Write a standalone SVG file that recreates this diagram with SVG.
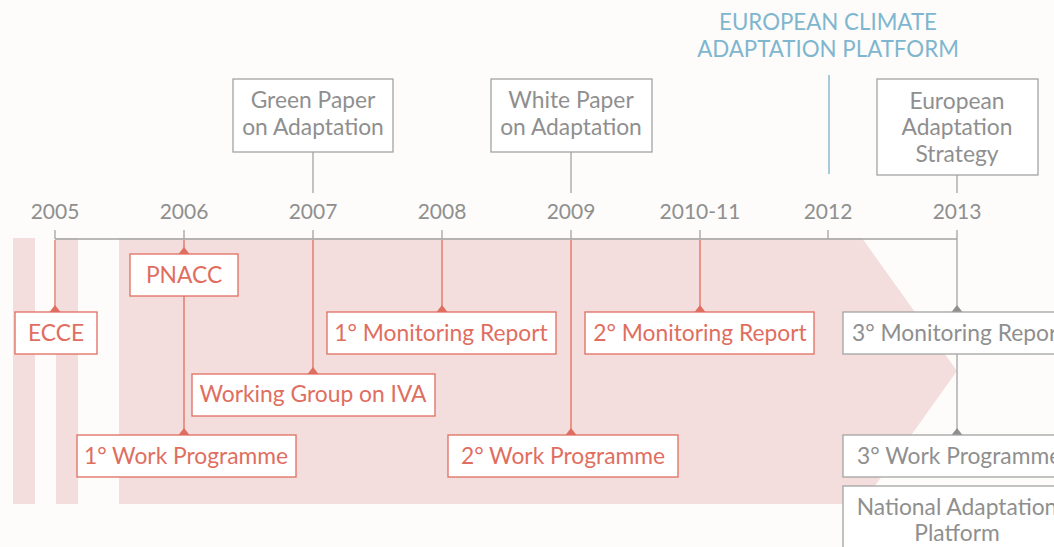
<svg xmlns="http://www.w3.org/2000/svg" width="1054" height="547" viewBox="0 0 1054 547">
<defs>
<style>
text{font-family:Lato,"Open Sans","Liberation Sans",sans-serif;font-size:22.8px}
.yr{fill:#8f8f8f;text-anchor:middle;font-size:21px}
.rbox{fill:#fff;stroke:#e06e60;stroke-width:1.3}
.gbox{fill:#fff;stroke:#a3a3a3;stroke-width:1.3}
.rt{fill:#e06e60;text-anchor:middle}
.gt{fill:#8f8f8f;text-anchor:middle}
.rl{stroke:#e06e60;stroke-width:1.3;fill:none}
.gl{stroke:#a3a3a3;stroke-width:1.3;fill:none}
.bl{stroke:#8fbdd3;stroke-width:1.6}
.bt{fill:#7fb6cf;text-anchor:middle;font-size:22.3px}
.rtri{fill:#e06e60}
.gtri{fill:#8f8f8f}
</style>
</defs>
<rect width="1054" height="547" fill="#fdfcfa"/>
<g id="band" fill="#f3dedd">
<rect x="13" y="238" width="22" height="266"/>
<rect x="56" y="238" width="22" height="266"/>
<polygon points="119,238 862,238 957,371 862,504 119,504"/>
</g>
<g id="connectors">
<line class="gl" x1="55" y1="239" x2="957" y2="239"/>
<g class="gl">
<line x1="55" y1="230" x2="55" y2="239"/>
<line x1="184" y1="230" x2="184" y2="239"/>
<line x1="313" y1="230" x2="313" y2="239"/>
<line x1="442" y1="230" x2="442" y2="239"/>
<line x1="571" y1="230" x2="571" y2="239"/>
<line x1="700" y1="230" x2="700" y2="239"/>
<line x1="828" y1="230" x2="828" y2="239"/>
<line x1="957" y1="175" x2="957" y2="193"/>
<line x1="957" y1="230" x2="957" y2="312"/>
<line x1="957" y1="354" x2="957" y2="435"/>
<line x1="313" y1="152" x2="313" y2="193"/>
<line x1="571" y1="152" x2="571" y2="193"/>
</g>
<line class="bl" x1="829" y1="75" x2="829" y2="174"/>
<g class="rl">
<line x1="55" y1="240" x2="55" y2="312"/>
<line x1="184" y1="240" x2="184" y2="254"/>
<line x1="184" y1="296" x2="184" y2="435"/>
<line x1="313" y1="240" x2="313" y2="374"/>
<line x1="442" y1="240" x2="442" y2="312"/>
<line x1="571" y1="240" x2="571" y2="435"/>
<line x1="700" y1="240" x2="700" y2="312"/>
</g>
<g class="rtri">
<polygon points="49.5,312 60.5,312 55,305"/>
<polygon points="178.5,254 189.5,254 184,247"/>
<polygon points="178.5,435 189.5,435 184,428"/>
<polygon points="307.5,374 318.5,374 313,367"/>
<polygon points="436.5,312 447.5,312 442,305"/>
<polygon points="565.5,435 576.5,435 571,428"/>
<polygon points="694.5,312 705.5,312 700,305"/>
</g>
<g class="gtri">
<polygon points="951.5,312 962.5,312 957,305"/>
<polygon points="951.5,435 962.5,435 957,428"/>
</g>
</g>
<g id="years">
<text class="yr" x="55" y="219">2005</text>
<text class="yr" x="184" y="219">2006</text>
<text class="yr" x="313" y="219">2007</text>
<text class="yr" x="442" y="219">2008</text>
<text class="yr" x="571" y="219">2009</text>
<text class="yr" x="700" y="219">2010-11</text>
<text class="yr" x="828" y="219">2012</text>
<text class="yr" x="957" y="219">2013</text>
</g>
<g id="eu-platform">
<text class="bt" x="828" y="30">EUROPEAN CLIMATE</text>
<text class="bt" x="828" y="57">ADAPTATION PLATFORM</text>
</g>
<g id="green-paper">
<rect class="gbox" x="233" y="79" width="160" height="73"/>
<text class="gt" x="313" y="108">Green Paper</text>
<text class="gt" x="313" y="135">on Adaptation</text>
</g>
<g id="white-paper">
<rect class="gbox" x="491" y="79" width="161" height="73"/>
<text class="gt" x="571" y="108">White Paper</text>
<text class="gt" x="571" y="135">on Adaptation</text>
</g>
<g id="eu-strategy">
<rect class="gbox" x="877" y="79" width="161" height="96"/>
<text class="gt" x="957" y="109">European</text>
<text class="gt" x="957" y="135">Adaptation</text>
<text class="gt" x="957" y="162">Strategy</text>
</g>
<g id="ecce">
<rect class="rbox" x="15" y="312" width="82" height="42"/>
<text class="rt" x="56" y="341">ECCE</text>
</g>
<g id="pnacc">
<rect class="rbox" x="130" y="254" width="108" height="42"/>
<text class="rt" x="184" y="283">PNACC</text>
</g>
<g id="wp1">
<rect class="rbox" x="77" y="435" width="219" height="42"/>
<text class="rt" x="186" y="464">1° Work Programme</text>
</g>
<g id="wg-iva">
<rect class="rbox" x="192" y="374" width="243" height="42"/>
<text class="rt" x="313" y="402">Working Group on IVA</text>
</g>
<g id="mr1">
<rect class="rbox" x="327" y="312" width="229" height="42"/>
<text class="rt" x="441" y="341">1° Monitoring Report</text>
</g>
<g id="wp2">
<rect class="rbox" x="448" y="435" width="230" height="42"/>
<text class="rt" x="563" y="464">2° Work Programme</text>
</g>
<g id="mr2">
<rect class="rbox" x="585" y="312" width="229" height="42"/>
<text class="rt" x="700" y="341">2° Monitoring Report</text>
</g>
<g id="mr3">
<rect class="gbox" x="843" y="312" width="230" height="42"/>
<text class="gt" x="852" y="341" style="text-anchor:start">3° Monitoring Report</text>
</g>
<g id="wp3">
<rect class="gbox" x="843" y="435" width="230" height="42"/>
<text class="gt" x="857" y="464" style="text-anchor:start">3° Work Programme</text>
</g>
<g id="nap">
<rect class="gbox" x="843" y="486" width="230" height="80"/>
<text class="gt" x="957" y="515">National Adaptation</text>
<text class="gt" x="957" y="541">Platform</text>
</g>
</svg>
